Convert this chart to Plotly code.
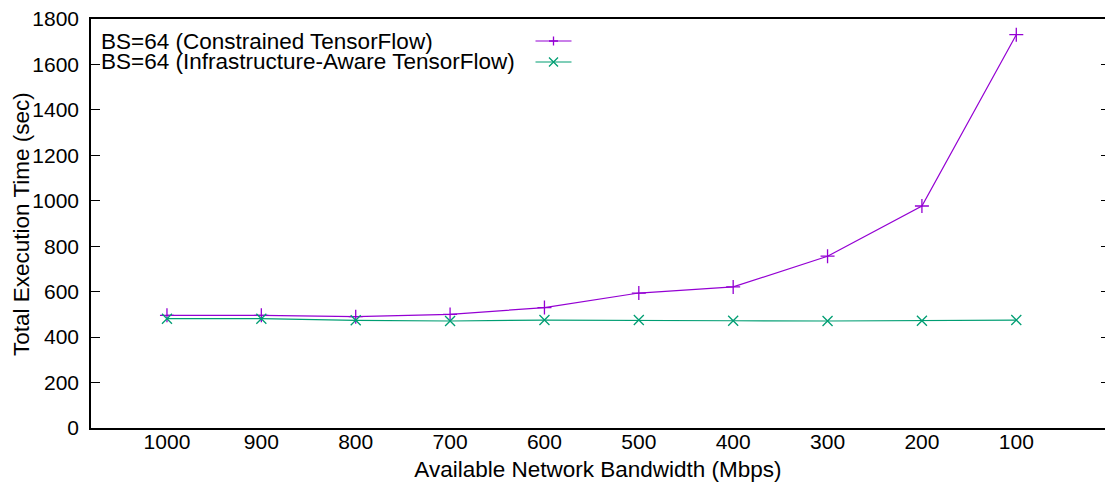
import plotly.graph_objects as go

bandwidth = ["1000", "900", "800", "700", "600", "500", "400", "300", "200", "100"]
constrained = [496, 496, 490, 500, 530, 594, 621, 756, 977, 1731]
infra_aware = [481, 481, 474, 471, 475, 475, 472, 471, 472, 475]
series_names = ["BS=64 (Constrained TensorFlow)", "BS=64 (Infrastructure-Aware TensorFlow)"]
y_ticks = [0, 200, 400, 600, 800, 1000, 1200, 1400, 1600, 1800]
x_title = "Available Network Bandwidth (Mbps)"
y_title = "Total Execution Time (sec)"

PURPLE = "#9400d3"
GREEN = "#009e73"
FONT = "Liberation Sans, Arial, sans-serif"
TEXT_SIZE = 22.5
TICK_SIZE = 21

W, H = 1105, 482
L, R, T, B = 91, 0, 19, 54
pw, ph = W - L - R, H - T - B

xs = list(range(len(bandwidth)))

fig = go.Figure()
fig.add_trace(go.Scatter(
    x=xs, y=constrained, mode="lines+markers", name=series_names[0],
    line=dict(color=PURPLE, width=1.2),
    marker=dict(symbol="cross-thin", size=10, line=dict(color=PURPLE, width=1.3)),
))
fig.add_trace(go.Scatter(
    x=xs, y=infra_aware, mode="lines+markers", name=series_names[1],
    line=dict(color=GREEN, width=1.2),
    marker=dict(symbol="x-thin", size=10, line=dict(color=GREEN, width=1.3)),
))
# invisible trace for right-hand mirror ticks
fig.add_trace(go.Scatter(x=[xs[0]], y=[constrained[0]], yaxis="y2", mode="markers",
                         marker=dict(opacity=0), showlegend=False, hoverinfo="skip"))

def px_to_paper_x(px):
    return (px - L) / pw

def px_to_paper_y(py):
    return (H - B - py) / ph

shapes = []
annotations = []
legend_rows = [(41, PURPLE, "+"), (62, GREEN, "x")]
for (row_y, color, sym), name in zip(legend_rows, series_names):
    yp = px_to_paper_y(row_y)
    annotations.append(dict(
        x=px_to_paper_x(99), y=yp, xref="paper", yref="paper",
        text=name, showarrow=False, xanchor="left", yanchor="middle",
        font=dict(family=FONT, size=TEXT_SIZE, color="black"),
    ))
    shapes.append(dict(type="line", xref="paper", yref="paper",
                       x0=px_to_paper_x(535.5), x1=px_to_paper_x(571.5), y0=yp, y1=yp,
                       line=dict(color=color, width=1.2)))
    cx = px_to_paper_x(553.5)
    h = 4.5
    if sym == "+":
        path = f"M{-h},0 L{h},0 M0,{-h} L0,{h}"
    else:
        path = f"M{-h},{-h} L{h},{h} M{-h},{h} L{h},{-h}"
    shapes.append(dict(type="path", xref="paper", yref="paper",
                       xsizemode="pixel", ysizemode="pixel",
                       xanchor=cx, yanchor=yp, path=path,
                       line=dict(color=color, width=1.3)))

# y-axis title placed as a rotated annotation
annotations.append(dict(
    x=px_to_paper_x(22), y=px_to_paper_y(224), xref="paper", yref="paper",
    text=y_title, textangle=-90, showarrow=False, xanchor="center", yanchor="middle",
    font=dict(family=FONT, size=TEXT_SIZE, color="black"),
))

fig.update_layout(
    width=W, height=H,
    margin=dict(l=L, r=R, t=T, b=B, pad=0),
    paper_bgcolor="white", plot_bgcolor="white",
    showlegend=False,
    font=dict(family=FONT, size=TICK_SIZE, color="black"),
    shapes=shapes, annotations=annotations,
    xaxis=dict(
        range=[-0.805, 9.94], tickmode="array", tickvals=xs, ticktext=bandwidth,
        showgrid=False, zeroline=False, showline=True, linecolor="black", linewidth=1.5,
        mirror=True, ticks="", ticklabelstandoff=-6, automargin=False,
        title=dict(text=x_title, standoff=10,
                   font=dict(family=FONT, size=TEXT_SIZE)),
        tickfont=dict(family=FONT, size=TICK_SIZE),
    ),
    yaxis=dict(
        range=[0, 1800], tickmode="array", tickvals=y_ticks,
        showgrid=False, zeroline=False, showline=True, linecolor="black", linewidth=1.5,
        ticks="inside", ticklen=9, tickcolor="black", tickwidth=1,
        ticklabelstandoff=6, automargin=False,
        tickfont=dict(family=FONT, size=TICK_SIZE),
    ),
    yaxis2=dict(
        range=[0, 1800], tickmode="array", tickvals=y_ticks, overlaying="y", side="right",
        showgrid=False, zeroline=False, showline=False, showticklabels=False,
        ticks="inside", ticklen=4, tickcolor="black", tickwidth=1, automargin=False,
    ),
)

fig.write_html(
    "out.html",
    config={"displayModeBar": False},
    post_script="document.body.style.margin='0';document.body.style.overflow='hidden';",
)
